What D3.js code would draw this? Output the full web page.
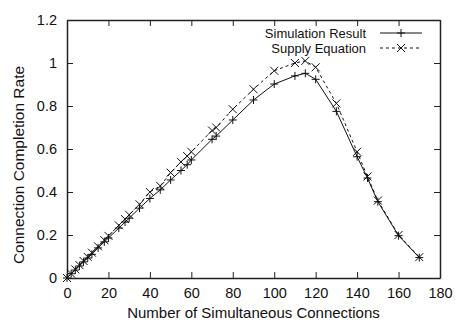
<!DOCTYPE html>
<html>
<head>
<meta charset="utf-8">
<script src="https://cdn.jsdelivr.net/npm/d3@7"></script>
<style>
  body { margin: 0; background: #fff; }
  text { font-family: "Liberation Sans", Arial, sans-serif; fill: #111; }
</style>
</head>
<body>
<div id="chart"></div>
<script>
const connections = [0, 2, 4, 6, 8, 10, 12, 15, 18, 20, 25, 28, 30, 35, 40, 45, 50, 55, 58, 60,
  70, 72, 80, 90, 100, 110, 115, 120, 130, 140, 145, 150, 160, 170];
const simulationResult = [0.0, 0.02, 0.037, 0.056, 0.075, 0.093, 0.11, 0.14, 0.168, 0.186, 0.232, 0.26,
  0.278, 0.325, 0.37, 0.41, 0.456, 0.50, 0.527, 0.549, 0.645, 0.66, 0.735, 0.828, 0.902, 0.94, 0.952,
  0.924, 0.775, 0.564, 0.465, 0.355, 0.197, 0.095];
const supplyEquation = [0.0, 0.02, 0.04, 0.06, 0.079, 0.098, 0.118, 0.147, 0.176, 0.196, 0.245, 0.274,
  0.294, 0.343, 0.40, 0.428, 0.49, 0.54, 0.567, 0.587, 0.686, 0.70, 0.785, 0.878, 0.964, 1.0, 1.01,
  0.98, 0.812, 0.587, 0.472, 0.36, 0.2, 0.097];
const xTicks = [0, 20, 40, 60, 80, 100, 120, 140, 160, 180];
const yTicks = [0, 0.2, 0.4, 0.6, 0.8, 1, 1.2];

const width = 459, height = 324;
const margin = {top: 20, right: 19, bottom: 46, left: 67};

const svg = d3.select('#chart').append('svg')
  .attr('width', width)
  .attr('height', height);

const x = d3.scaleLinear().domain([0, 180]).range([margin.left, width - margin.right]);
const y = d3.scaleLinear().domain([0, 1.2]).range([height - margin.bottom, margin.top]);

// frame with inward ticks on all sides
const g = svg.append('g');
const tk = 6;

g.append('g').attr('transform', `translate(0,${y(0)})`)
  .call(d3.axisBottom(x).tickValues(xTicks).tickFormat(d3.format('d')).tickSizeInner(-tk).tickSizeOuter(0).tickPadding(10))
g.append('g').attr('transform', `translate(0,${y(1.2)})`)
  .call(d3.axisTop(x).tickValues(xTicks).tickFormat('').tickSizeInner(-tk).tickSizeOuter(0))
g.append('g').attr('transform', `translate(${x(0)},0)`)
  .call(d3.axisLeft(y).tickValues(yTicks).tickFormat(d => d3.format('.1f')(d).replace(/\.0$/, '')).tickSizeInner(-tk).tickSizeOuter(0).tickPadding(10))
g.append('g').attr('transform', `translate(${x(180)},0)`)
  .call(d3.axisRight(y).tickValues(yTicks).tickFormat('').tickSizeInner(-tk).tickSizeOuter(0))

g.selectAll('.domain').attr('stroke', '#222').attr('stroke-width', 1.5);
g.selectAll('.tick line').attr('stroke', '#222').attr('stroke-width', 1);
g.selectAll('.tick text').attr('font-size', 14.5).attr('font-family', '"Liberation Sans", Arial, sans-serif').attr('fill', '#111');

// series
const sim = connections.map((c, i) => [c, simulationResult[i]]);
const sup = connections.map((c, i) => [c, supplyEquation[i]]);

const line = d3.line().x(d => x(d[0])).y(d => y(d[1]));

svg.append('path').datum(sim)
  .attr('d', line).attr('fill', 'none').attr('stroke', '#111').attr('stroke-width', 1);
svg.append('path').datum(sup)
  .attr('d', line).attr('fill', 'none').attr('stroke', '#111').attr('stroke-width', 1)
  .attr('stroke-dasharray', '3,3');

const m = 4;
const plus = (px, py) => `M${px - m},${py}H${px + m}M${px},${py - m}V${py + m}`;
const cross = (px, py) => `M${px - m},${py - m}L${px + m},${py + m}M${px - m},${py + m}L${px + m},${py - m}`;

svg.append('g').selectAll('path').data(sim).enter().append('path')
  .attr('d', d => plus(x(d[0]), y(d[1])))
  .attr('stroke', '#111').attr('stroke-width', 1);
svg.append('g').selectAll('path').data(sup).enter().append('path')
  .attr('d', d => cross(x(d[0]), y(d[1])))
  .attr('stroke', '#111').attr('stroke-width', 1);

// legend
const legend = svg.append('g');
const lx1 = 380, lx2 = 422;
[['Simulation Result', plus, null, 33], ['Supply Equation', cross, '3,3', 48]].forEach(([label, mk, dash, ly]) => {
  legend.append('text').attr('x', 366).attr('y', ly).attr('dy', '0.35em')
    .attr('text-anchor', 'end').attr('font-size', 13).text(label);
  legend.append('line').attr('x1', lx1).attr('x2', lx2).attr('y1', ly).attr('y2', ly)
    .attr('stroke', '#111').attr('stroke-width', 1).attr('stroke-dasharray', dash);
  legend.append('path').attr('d', mk((lx1 + lx2) / 2, ly)).attr('stroke', '#111').attr('stroke-width', 1);
});

// axis titles
svg.append('text')
  .attr('x', (x(0) + x(180)) / 2).attr('y', 318)
  .attr('text-anchor', 'middle').attr('font-size', 15)
  .text('Number of Simultaneous Connections');

svg.append('text')
  .attr('transform', `translate(24,${(y(0) + y(1.2)) / 2 + 16}) rotate(-90)`)
  .attr('text-anchor', 'middle').attr('font-size', 15.5)
  .text('Connection Completion Rate');
</script>
</body>
</html>
